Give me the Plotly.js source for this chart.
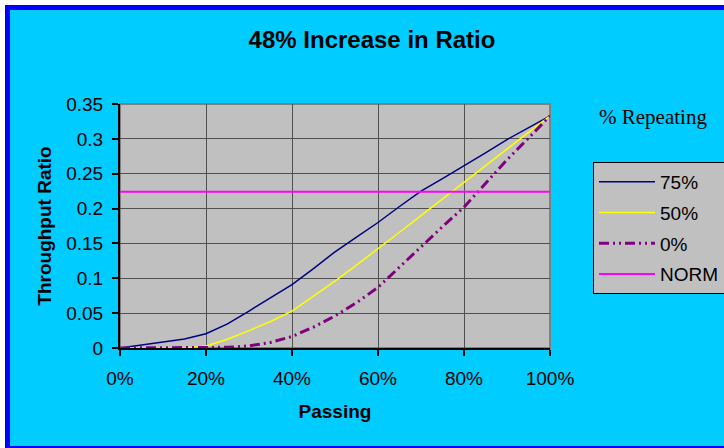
<!DOCTYPE html>
<html>
<head>
<meta charset="utf-8">
<script src="https://cdn.plot.ly/plotly-3.0.1.min.js"></script>
<style>
  html, body { margin: 0; padding: 0; background: #ffffff; width: 724px; height: 448px; overflow: hidden; }
  #frame {
    position: absolute; left: 5px; top: 5px;
    width: 760px; height: 436px;
    border: 5px solid #0000ff;
    background: #00ccff;
  }
  #chart { position: absolute; left: 0; top: 0; width: 750px; height: 436px; }
</style>
</head>
<body>
<div id="frame"><div id="chart"></div></div>
<script>
// Passing percentage (x) shared by every series
const passing = [0, 5, 10, 15, 20, 25, 30, 35, 40, 45, 50, 55, 60, 65, 70, 75, 80, 85, 90, 95, 100];

// Throughput ratio for each repeating share
const repeat75 = [0, 0.004, 0.0085, 0.013, 0.0205, 0.0345, 0.053, 0.072, 0.091, 0.114, 0.138,
                  0.159, 0.180, 0.203, 0.225, 0.243, 0.261, 0.280, 0.299, 0.316, 0.333];
const repeat50 = [0, 0, 0, 0, 0.003, 0.0125, 0.025, 0.038, 0.053, 0.074, 0.096,
                  0.119, 0.142, 0.166, 0.190, 0.214, 0.238, 0.262, 0.286, 0.310, 0.333];
const repeat0  = [0, 0, 0, 0, 0, 0.001, 0.003, 0.008, 0.0165, 0.030, 0.046,
                  0.065, 0.087, 0.116, 0.146, 0.174, 0.202, 0.236, 0.270, 0.301, 0.333];

// Reference level
const normRange = [0, 100];
const normLevel = [0.224, 0.224];

const seriesNames = ['75%', '50%', '0%', 'NORM'];
const xTickVals = [0, 20, 40, 60, 80, 100];
const xTickText = ['0%', '20%', '40%', '60%', '80%', '100%'];

const sans = 'Liberation Sans, Arial, sans-serif';

const traces = [
  { x: passing, y: repeat75, name: seriesNames[0], legendgroup: 'a', mode: 'lines',
    line: { color: '#000080', width: 1.5 } },
  { x: passing, y: repeat50, name: seriesNames[1], legendgroup: 'b', mode: 'lines',
    line: { color: '#ffff00', width: 1.5 } },
  { x: passing, y: repeat0, name: seriesNames[2], legendgroup: 'c', mode: 'lines',
    line: { color: '#800080', width: 3, dash: '10px,4px,2px,4px,2px,4px' } },
  { x: normRange, y: normLevel, name: seriesNames[3], legendgroup: 'd', mode: 'lines',
    line: { color: '#ff00ff', width: 2 } }
];

const layout = {
  width: 750, height: 436,
  paper_bgcolor: '#00ccff',
  plot_bgcolor: '#c0c0c0',
  margin: { l: 110, r: 210, t: 94, b: 98, pad: 0 },
  font: { family: sans, size: 19, color: '#000000' },
  title: {
    text: '<b>48% Increase in Ratio</b>',
    font: { family: sans, size: 24, color: '#000000' },
    x: 362, xref: 'container', xanchor: 'center',
    y: 0.931, yref: 'container', yanchor: 'middle'
  },
  xaxis: {
    range: [0, 100], tickvals: xTickVals, ticktext: xTickText,
    showgrid: true, gridcolor: '#505050', gridwidth: 1,
    zeroline: false, showline: true, linecolor: '#000000', linewidth: 2,
    ticks: 'outside', ticklen: 6, tickwidth: 2, tickcolor: '#000000',
    ticklabelstandoff: 6,
    tickfont: { family: sans, size: 19 },
    title: { text: '<b>Passing</b>', font: { family: sans, size: 19 }, standoff: 17 },
    fixedrange: true
  },
  yaxis: {
    range: [0, 0.35], dtick: 0.05, tick0: 0,
    showgrid: true, gridcolor: '#505050', gridwidth: 1,
    zeroline: false, showline: true, linecolor: '#000000', linewidth: 2,
    ticks: 'outside', ticklen: 6, tickwidth: 2, tickcolor: '#000000',
    ticklabelstandoff: 5,
    tickfont: { family: sans, size: 19 },
    title: { text: '<b>Throughput Ratio</b>', font: { family: sans, size: 19 }, standoff: 10 },
    fixedrange: true
  },
  shapes: [
    { type: 'rect', xref: 'paper', yref: 'paper', x0: 0, x1: 1, y0: 0, y1: 1,
      line: { color: '#808080', width: 2 }, layer: 'below' }
  ],
  annotations: [
    { text: '% Repeating', xref: 'paper', yref: 'paper', x: 1.109, y: 0.947,
      xanchor: 'left', yanchor: 'middle', showarrow: false,
      font: { family: 'Liberation Serif, Times New Roman, serif', size: 21, color: '#000000' } }
  ],
  showlegend: true,
  legend: {
    x: 1.1, xanchor: 'left', y: 0.7623, yanchor: 'top',
    bgcolor: '#c0c0c0', bordercolor: '#000000', borderwidth: 1,
    font: { family: sans, size: 19, color: '#000000' },
    itemwidth: 56, tracegroupgap: 3, traceorder: 'grouped'
  }
};

// title x is given in container pixels above; convert to a fraction
layout.title.x = layout.title.x / layout.width;

Plotly.newPlot('chart', traces, layout, { staticPlot: true, displayModeBar: false });
</script>
</body>
</html>
